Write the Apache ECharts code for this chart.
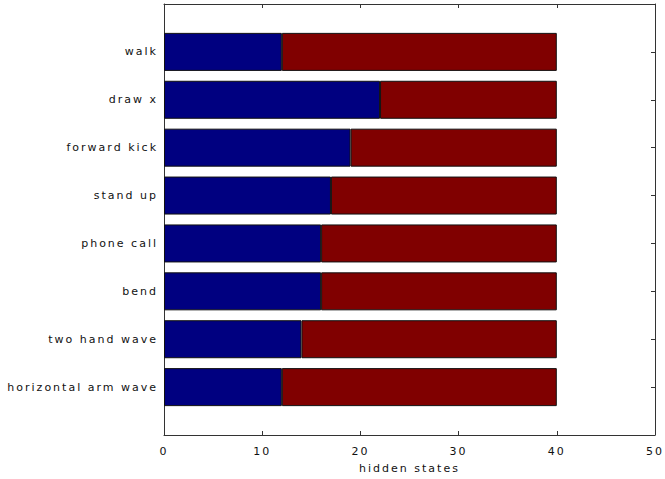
<!DOCTYPE html>
<html>
<head>
<meta charset="utf-8">
<script src="https://cdn.jsdelivr.net/npm/echarts@6/dist/echarts.min.js"></script>
<style>
  html, body { margin: 0; padding: 0; background: #fff; }
  #chart { width: 665px; height: 479px; }
  /* 原图的字比较宽, 加一点字间距 */
  #chart text { letter-spacing: 2px; }
</style>
</head>
<body>
<div id="chart"></div>
<script>
// 数据 (从上到下)
var actions = ['walk', 'draw x', 'forward kick', 'stand up', 'phone call', 'bend', 'two hand wave', 'horizontal arm wave'];
var blueStates = [12, 22, 19, 17, 16, 16, 14, 12];
var redStates = [28, 18, 21, 23, 24, 24, 26, 28];
var xTicks = [0, 10, 20, 30, 40, 50];

// 上下各留一个空位, 让边框和图里一样留白
var cats = [''].concat(actions, ['']);
var blueData = ['-'].concat(blueStates, ['-']);
var redData = ['-'].concat(redStates, ['-']);

var font = 'DejaVu Sans';
var lineStyle = { color: '#333', width: 1 };

var myChart = echarts.init(document.getElementById('chart'), null, { renderer: 'svg' });

var option = {
    animation: false,
    backgroundColor: '#fff',
    grid: { left: 164, right: 8, top: 4, bottom: 42 },
    xAxis: [{
        type: 'value',
        min: xTicks[0],
        max: xTicks[xTicks.length - 1],
        interval: 10,
        name: 'hidden states',
        nameLocation: 'middle',
        nameGap: 28,
        nameTextStyle: { fontFamily: font, fontSize: 11, color: '#111' },
        axisLine: { show: true, onZero: false, lineStyle: lineStyle },
        axisTick: { show: true, inside: true, length: 4, lineStyle: lineStyle },
        axisLabel: { fontFamily: font, fontSize: 11, color: '#111', margin: 11 },
        splitLine: { show: false }
    }, {
        type: 'value',
        position: 'top',
        min: xTicks[0],
        max: xTicks[xTicks.length - 1],
        interval: 10,
        axisLine: { show: true, onZero: false, lineStyle: lineStyle },
        axisTick: { show: true, inside: true, length: 4, lineStyle: lineStyle },
        axisLabel: { show: false },
        splitLine: { show: false }
    }],
    yAxis: [{
        type: 'category',
        data: cats,
        inverse: true,
        boundaryGap: false,
        axisLine: { show: true, onZero: false, lineStyle: lineStyle },
        axisTick: { show: true, inside: true, length: 4, interval: 0, lineStyle: lineStyle },
        axisLabel: { fontFamily: font, fontSize: 11, color: '#111', margin: 6, interval: 0 },
        splitLine: { show: false }
    }, {
        type: 'category',
        data: cats,
        inverse: true,
        position: 'right',
        boundaryGap: false,
        axisLine: { show: true, onZero: false, lineStyle: lineStyle },
        axisTick: { show: true, inside: true, length: 4, interval: 0, lineStyle: lineStyle },
        axisLabel: { show: false },
        splitLine: { show: false }
    }],
    series: [{
        name: 'blue',
        type: 'bar',
        stack: 'total',
        barWidth: 38,
        data: blueData,
        itemStyle: { color: '#000080', borderColor: '#111', borderWidth: 1 }
    }, {
        name: 'red',
        type: 'bar',
        stack: 'total',
        barWidth: 38,
        data: redData,
        itemStyle: { color: '#800000', borderColor: '#111', borderWidth: 1 }
    }]
};

myChart.setOption(option);
</script>
</body>
</html>
